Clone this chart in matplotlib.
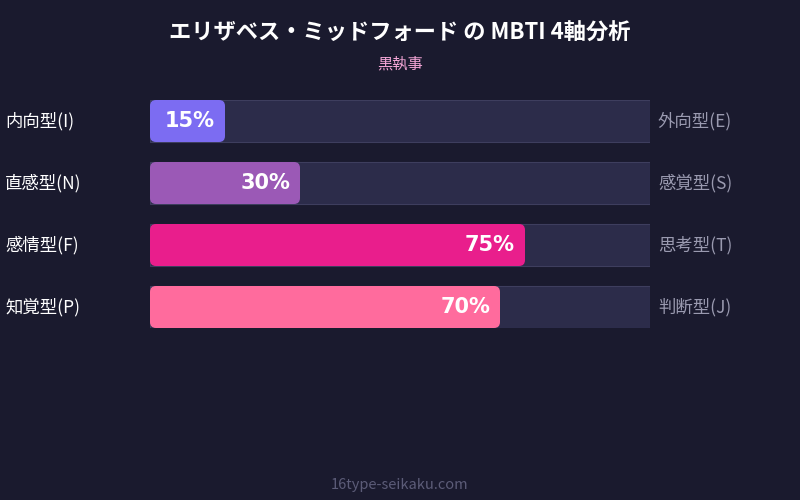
import matplotlib
matplotlib.use("Agg")
import matplotlib.pyplot as plt
from matplotlib.patches import FancyBboxPatch

plt.rcParams['font.family'] = ['Noto Sans CJK JP', 'DejaVu Sans']

left_labels = ["内向型(I)", "直感型(N)", "感情型(F)", "知覚型(P)"]
right_labels = ["外向型(E)", "感覚型(S)", "思考型(T)", "判断型(J)"]
values = [15, 30, 75, 70]
colors = ["#7c6cf2", "#9b59b6", "#e91e8c", "#ff6b9d"]

bg = "#1a1a2e"
fig = plt.figure(figsize=(8, 5), dpi=100, facecolor=bg)
ax = fig.add_axes([150/800, (500-328)/500, 500/800, 228/500])
ax.set_facecolor(bg)
ax.set_xlim(0, 100)
ax.set_ylim(3 + 21/62, -21/62)
ax.axis('off')
h = 42/62
asp = (100/500) ** -1 / 62  # y units per x unit ratio for rounding
for i, (v, c) in enumerate(zip(values, colors)):
    ax.add_patch(plt.Rectangle((0, i - h/2), 100, h, facecolor="#2c2c4a",
                               edgecolor="#3e3e5e", lw=0.8))
    r = 1.2
    ax.add_patch(FancyBboxPatch((r, i - h/2 + r*5/62), v - 2*r, h - 2*r*5/62,
                                boxstyle=f"round,pad={r}", mutation_aspect=5/62,
                                facecolor=c, edgecolor="none"))
    ax.text(v - 2, i, f"{v}%", color="white", fontsize=15, fontweight="bold",
            ha="right", va="center", family=['DejaVu Sans'])
    fig.text(5/800, 1 - (121 + 62*i)/500, left_labels[i], color="white",
             fontsize=12.5, ha="left", va="center")
    fig.text(658/800, 1 - (121 + 62*i)/500, right_labels[i], color="#9a9ab0",
             fontsize=12.5, ha="left", va="center")

fig.text(0.5, 1 - 33/500, "エリザベス・ミッドフォード の MBTI 4軸分析", color="white",
         fontsize=16, fontweight="bold", ha="center", va="center")
fig.text(0.5, 1 - 64/500, "黒執事", color="#f4a6d7", fontsize=11, ha="center", va="center")
fig.text(0.5, 1 - 485/500, "16type-seikaku.com", color="#5c5c78", fontsize=10.5,
         ha="center", va="center")
fig.savefig("out.png", dpi=100, facecolor=bg)
